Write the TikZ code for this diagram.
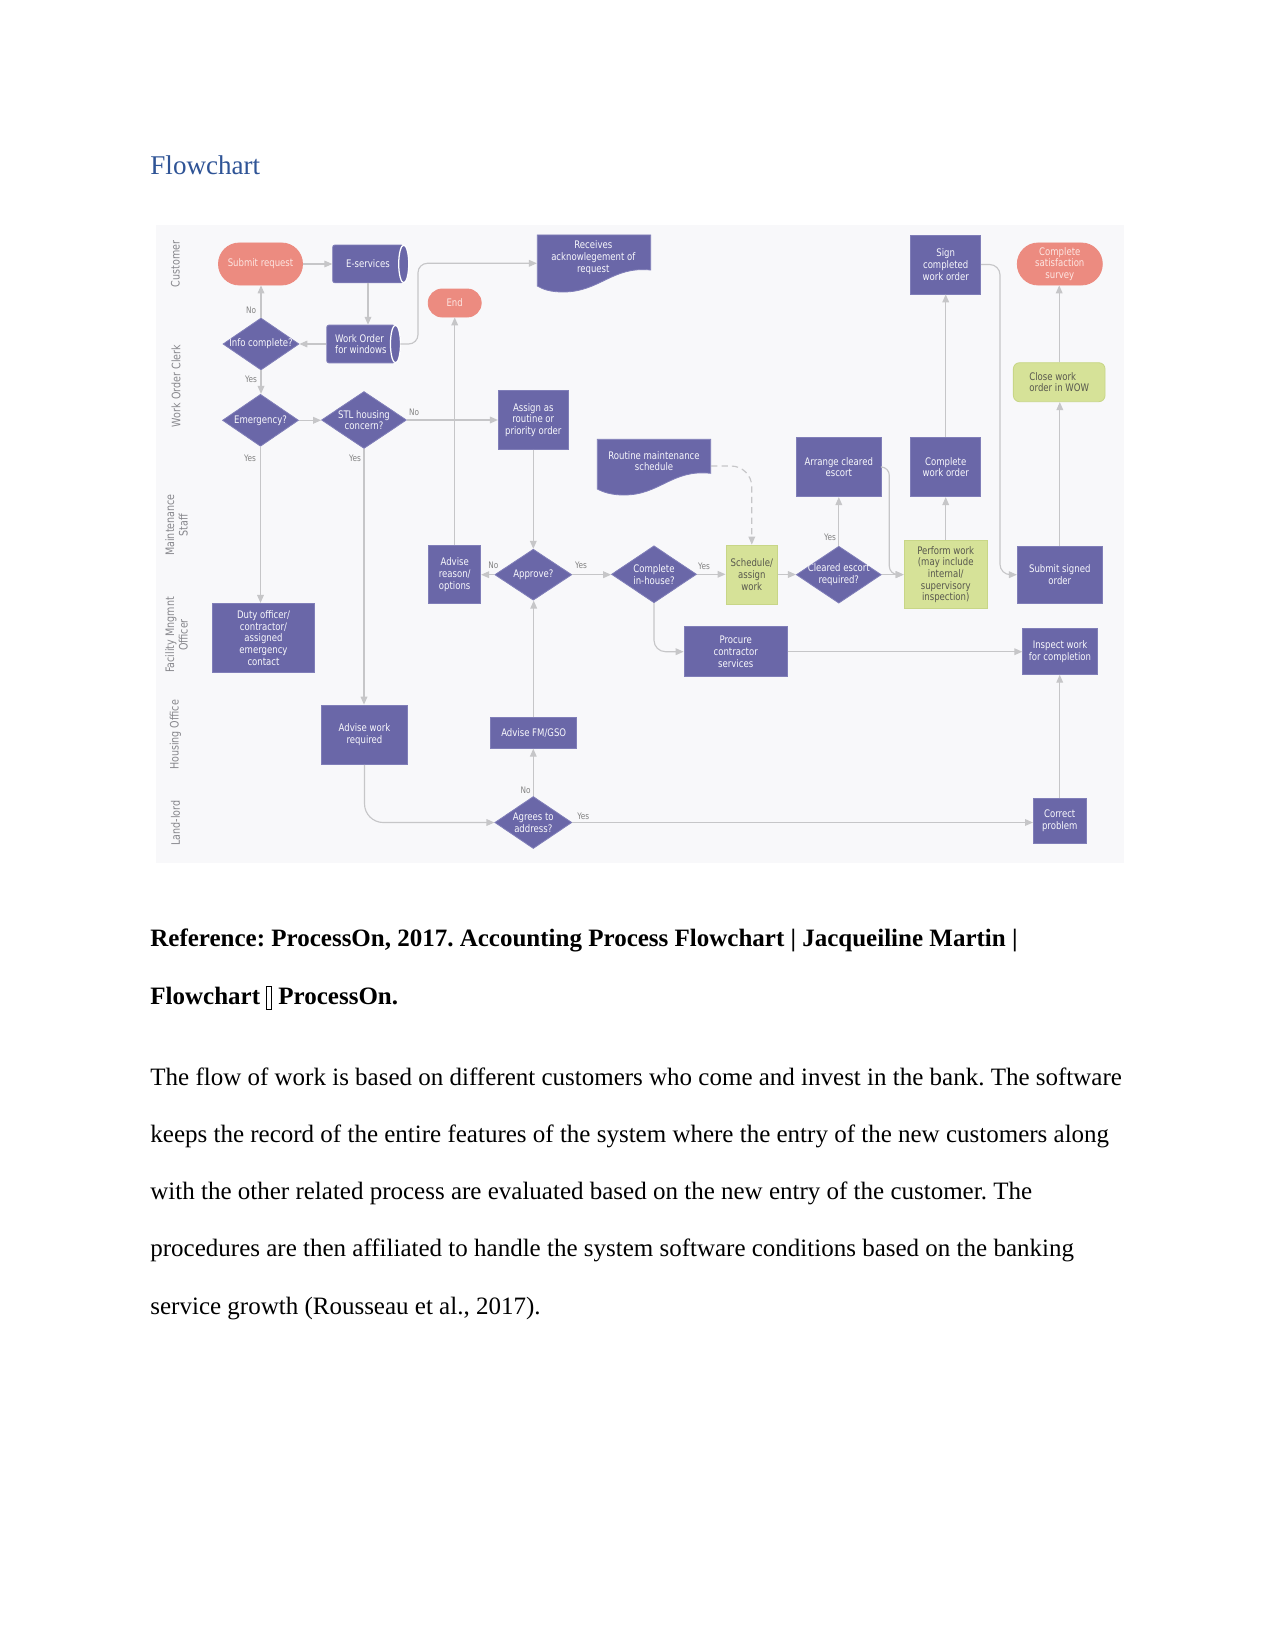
\documentclass[tikz,border=0pt]{standalone}
\usepackage{fontspec}
\setmainfont{Liberation Serif}
\newfontfamily\diafont[FakeStretch=0.82]{DejaVu Sans}
\usetikzlibrary{shapes.geometric,arrows.meta}
\frenchspacing
\newcommand\px{0.48pt}
\definecolor{pur}{RGB}{106,103,168}
\definecolor{purline}{RGB}{128,126,184}
\definecolor{ptext}{RGB}{248,248,252}
\definecolor{sal}{RGB}{236,139,128}
\definecolor{saltext}{RGB}{253,230,226}
\definecolor{grn}{RGB}{214,226,152}
\definecolor{grnline}{RGB}{200,214,135}
\definecolor{gtext}{RGB}{88,88,78}
\definecolor{bgc}{RGB}{248,248,250}
\definecolor{lgray}{RGB}{198,198,200}
\definecolor{yngray}{RGB}{130,130,130}
\definecolor{lanegray}{RGB}{135,135,140}
\definecolor{headblue}{RGB}{47,84,150}
\tikzset{
  ntext/.style={font=\diafont\fontsize{5}{5.6}\selectfont, align=center, inner sep=0pt},
  box/.style={ntext, rectangle, fill=pur, draw=purline, line width=0.4pt, text=ptext},
  gbox/.style={box, fill=grn, draw=grnline, text=gtext},
  term/.style={box, fill=sal, draw=sal, text=saltext},
  decision/.style={diamond, fill=pur, draw=purline, line width=0.4pt, inner sep=0pt},
  dtext/.style={ntext, text=ptext},
  anchorbox/.style={rectangle, inner sep=0pt, draw=none, fill=none},
  conn/.style={draw=lgray, line width=0.55pt, -{Triangle[length=3.8pt,width=3.2pt]}},
  yn/.style={font=\diafont\fontsize{4.3}{5}\selectfont, text=yngray, inner sep=0pt},
  lane/.style={font=\diafont\fontsize{5.6}{6.4}\selectfont, text=lanegray, rotate=90, align=center, inner sep=0pt},
  body/.style={font=\fontsize{12}{14}\selectfont, anchor=base west, inner sep=0pt},
  bodyb/.style={body, font=\fontsize{12}{14}\selectfont\bfseries},
}
\begin{document}
\begin{tikzpicture}[x=0.48pt,y=-0.48pt]
\useasboundingbox (0,0) rectangle (1275,1651);
\fill[white] (0,0) rectangle (1275,1651);

% page text
\node[body, font=\fontsize{13}{15}\selectfont, text=headblue] (head) at (150,175) {Flowchart};
\node[bodyb] (ref1) at (150,946.5) {Reference: ProcessOn, 2017. Accounting Process Flowchart | Jacqueiline Martin |};
\node[bodyb] (ref2) at (150,1004) {Flowchart {\fboxsep=0pt\fboxrule=0.5pt\raisebox{-2.5pt}{\fbox{\rule{0pt}{10.5pt}\hspace{1.8pt}}}} ProcessOn.};
\node[body] (p1) at (150,1085) {The flow of work is based on different customers who come and invest in the bank. The software};
\node[body] (p2) at (150,1142) {keeps the record of the entire features of the system where the entry of the new customers along};
\node[body] (p3) at (150,1199) {with the other related process are evaluated based on the new entry of the customer. The};
\node[body] (p4) at (150,1256.5) {procedures are then affiliated to handle the system software conditions based on the banking};
\node[body] (p5) at (150,1314) {service growth (Rousseau et al., 2017).};

% flowchart background
\fill[bgc] (156,225) rectangle (1124,863);

% lane labels
\node[lane] (l1) at (175.3,264) {Customer};
\node[lane] (l2) at (176,386) {Work Order Clerk};
\node[lane] (l3) at (176.5,525) {Maintenance\\Staff};
\node[lane] (l4) at (176.5,635) {Facility Mngmnt\\Officer};
\node[lane] (l5) at (175.5,735) {Housing Office};
\node[lane] (l6) at (175.5,823) {Land-lord};

% terminals
\node[term, rounded corners=10pt, minimum width=84*\px, minimum height=42*\px] (sub) at (260.5,264) {Submit request};
\node[term, rounded corners=6.7pt, minimum width=53*\px, minimum height=28*\px] (endn) at (454.7,303) {End};
\node[term, rounded corners=10pt, minimum width=85*\px, minimum height=42*\px] (survey) at (1059.8,264) {Complete\\satisfaction\\survey};

% stored-data shapes
\node[box, rounded corners=1pt, minimum width=70.6*\px, minimum height=37.7*\px] (eserv) at (368,263.9) {E-services};
\draw[draw=white, line width=0.6pt, fill=pur] (eserv.east) ellipse [x radius=5*\px, y radius=18.85*\px];
\node[box, align=left, rounded corners=1pt, minimum width=68.3*\px, minimum height=37.7*\px] (wo) at (360.9,344) {Work Order\\for windows};
\draw[draw=white, line width=0.6pt, fill=pur] (wo.east) ellipse [x radius=5*\px, y radius=18.85*\px];

% documents
\filldraw[fill=pur, draw=purline, line width=0.4pt] (537.3,235) -- (650.7,235) -- (650.7,270) .. controls (612,266) and (600,292) .. (563,292) .. controls (551,292) and (543,289.5) .. (537.3,286) -- cycle;
\node[anchorbox, minimum width=113.4*\px, minimum height=20*\px] (recv) at (594,263.3) {};
\node[dtext] (recvt) at (593.3,257.7) {Receives\\acknowlegement of\\request};
\filldraw[fill=pur, draw=purline, line width=0.4pt] (597.3,439.3) -- (710.7,439.3) -- (710.7,473.3) .. controls (672,469) and (660,495) .. (624,495) .. controls (611,495) and (603,492) .. (597.3,489) -- cycle;
\node[anchorbox, minimum width=113.4*\px, minimum height=20*\px] (routine) at (654,466) {};
\node[dtext] (routinet) at (654,461) {Routine maintenance\\schedule};

% process boxes
\node[box, minimum width=70*\px, minimum height=58.6*\px] (assign) at (533.3,420) {Assign as\\routine or\\priority order};
\node[box, minimum width=85.7*\px, minimum height=59.4*\px] (arrange) at (838.8,467) {Arrange cleared\\escort};
\node[box, minimum width=70*\px, minimum height=59.4*\px] (cwo) at (945.7,467) {Complete\\work order};
\node[box, minimum width=70*\px, minimum height=59*\px] (sign) at (945.7,264.5) {Sign\\completed\\work order};
\node[box, minimum width=52*\px, minimum height=57.6*\px] (reason) at (454.7,574.5) {Advise\\reason/\\options};
\node[gbox, minimum width=83.3*\px, minimum height=67.6*\px] (perform) at (945.7,574.5) {Perform work\\(may include\\internal/\\supervisory\\inspection)};
\node[gbox, minimum width=51.7*\px, minimum height=59*\px] (sched) at (751.8,574.5) {Schedule/\\assign\\work};
\node[box, minimum width=85*\px, minimum height=57.3*\px] (submit) at (1059.8,574.7) {Submit signed\\order};
\node[box, minimum width=102.4*\px, minimum height=69*\px] (duty) at (263.5,637.8) {Duty officer/\\contractor/\\assigned\\emergency\\contact};
\node[box, minimum width=103.3*\px, minimum height=50*\px] (procure) at (735.7,651.7) {Procure\\contractor\\services};
\node[box, minimum width=74.6*\px, minimum height=46*\px] (inspect) at (1060,651.3) {Inspect work\\for completion};
\node[box, minimum width=85.6*\px, minimum height=59.3*\px] (advwork) at (364.5,734.7) {Advise work\\required};
\node[box, minimum width=86*\px, minimum height=31*\px] (fmgso) at (533.7,732.8) {Advise FM/GSO};
\node[box, minimum width=52.7*\px, minimum height=45*\px] (correct) at (1059.7,820.8) {Correct\\problem};
\node[gbox, align=left, rounded corners=3pt, minimum width=91.7*\px, minimum height=39*\px] (close) at (1059.2,382.2) {Close work\\order in WOW};

% decisions
\node[decision, minimum width=76*\px, minimum height=52*\px] (info) at (261,344) {};
\node[dtext] (infot) at (info) {Info complete?};
\node[decision, minimum width=76*\px, minimum height=52*\px] (emer) at (260.5,420.3) {};
\node[dtext] (emert) at (emer) {Emergency?};
\node[decision, minimum width=85*\px, minimum height=57*\px] (stl) at (364,420) {};
\node[dtext] (stlt) at (stl) {STL housing\\concern?};
\node[decision, minimum width=77*\px, minimum height=51*\px] (approve) at (533.3,574.7) {};
\node[dtext] (approvet) at (approve) {Approve?};
\node[decision, minimum width=85*\px, minimum height=57*\px] (inhouse) at (654,574.3) {};
\node[dtext] (inhouset) at (inhouse) {Complete\\in-house?};
\node[decision, minimum width=85*\px, minimum height=57*\px] (cleared) at (838.8,574.7) {};
\node[dtext] (clearedt) at (cleared) {Cleared escort\\required?};
\node[decision, minimum width=77*\px, minimum height=52*\px] (agrees) at (533.3,822.5) {};
\node[dtext] (agreest) at (agrees) {Agrees to\\address?};

% helper coordinates
\coordinate (k1) at (889.3,520);
\coordinate (k2) at (1000,420);
\coordinate (k3) at (418,300);

% connectors
\draw[conn] (sub.east) -- (sub.east -| eserv.west);
\draw[conn] (eserv.south) -- (eserv.south |- wo.north);
\draw[conn] (wo.west) -- (info.east);
\draw[conn] (info.north) -- (info.north |- sub.south);
\draw[conn] (info.south) -- (info.south |- emer.north);
\draw[conn] (emer.east) -- (emer.east -| stl.west);
\draw[conn] (stl.east) -- (stl.east -| assign.west);
\draw[conn] (emer.south) -- (emer.south |- duty.north);
\draw[conn] (stl.south) -- (stl.south |- advwork.north);
\draw[conn] (assign.south) -- (approve.north);
\draw[conn] (approve.west) -- (approve.west -| reason.east);
\draw[conn] (reason.north) -- (reason.north |- endn.south);
\draw[conn] (approve.east) -- (approve.east -| inhouse.west);
\draw[conn] (inhouse.east) -- (inhouse.east -| sched.west);
\draw[conn] (sched.east) -- (sched.east -| cleared.west);
\draw[conn] (cleared.north) -- (cleared.north |- arrange.south);
\draw[conn] (cleared.east) -- (cleared.east -| perform.west);
\draw[conn, rounded corners=4pt] (arrange.east) -| (k1) |- (perform.west);
\draw[conn] (perform.north) -- (perform.north |- cwo.south);
\draw[conn] (cwo.north) -- (cwo.north |- sign.south);
\draw[conn, rounded corners=5pt] (sign.east) -| (k2) |- (submit.west);
\draw[conn] (submit.north) -- (submit.north |- close.south);
\draw[conn] (close.north) -- (close.north |- survey.south);
\draw[conn, dash pattern=on 3pt off 2pt, rounded corners=10pt] (routine.east) -| (sched.north);
\draw[conn, rounded corners=5.5pt] (inhouse.south) |- (procure.west);
\draw[conn] (procure.east) -- (procure.east -| inspect.west);
\draw[conn, rounded corners=9pt] (advwork.south) |- (agrees.west);
\draw[conn] (agrees.north) -- (agrees.north |- fmgso.south);
\draw[conn] (fmgso.north) -- (fmgso.north |- approve.south);
\draw[conn] (agrees.east) -- (agrees.east -| correct.west);
\draw[conn] (correct.north) -- (correct.north |- inspect.south);
\draw[conn, rounded corners=4.5pt] ([xshift=5*\px]wo.east) -| (k3) |- (recv.west);

% yes / no labels
\node[yn] (y1) at (251,310.7) {No};
\node[yn] (y2) at (251,379.3) {Yes};
\node[yn] (y3) at (250,458.3) {Yes};
\node[yn] (y4) at (355,458.3) {Yes};
\node[yn] (y5) at (414,412) {No};
\node[yn] (y6) at (493.3,565) {No};
\node[yn] (y7) at (581,565) {Yes};
\node[yn] (y8) at (704,566.7) {Yes};
\node[yn] (y9) at (830,537.3) {Yes};
\node[yn] (y10) at (525.7,790) {No};
\node[yn] (y11) at (583.3,816) {Yes};
\end{tikzpicture}
\end{document}
